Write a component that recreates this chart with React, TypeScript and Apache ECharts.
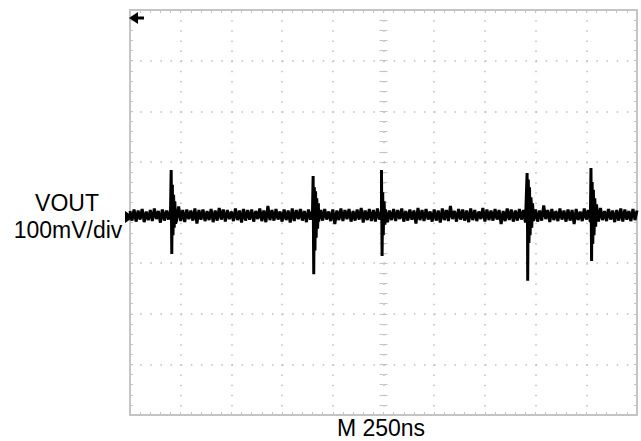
import React, { useEffect, useRef } from "react";
import * as echarts from "echarts";

// Time axis (ns) and voltage axis (mV)
const X_MIN = 0;
const X_MAX = 2500;
const X_DIV = 250;
const Y_MIN = -400;
const Y_MAX = 400;
const Y_DIV = 100;

// Baseline noise samples, one every 10 ns starting at 0 ns (mV)
const SAMPLE_STEP = 10;
const noise = [
  3, -16, 6, -18, 4, -14, 7, -19, 2, -15,
  5, -17, 8, -13, 3, -20, 6, -16, 4, -14,
  7, -18, 2, -15, 12, -17, 5, -19, 6, -13,
  4, -16, 8, -22, 5, -14, 6, -17, 3, -15,
  7, -19, 4, -16, 9, -14, 6, -18, 5, -13,
  2, -17, 8, -15, 4, -20, 7, -16, 5, -14,
  6, -18, 3, -13, 8, -17, 4, -19, 13, -15,
  5, -16, 7, -14, 2, -18, 6, -15, 4, -20,
  8, -17, 5, -13, 7, -16, 3, -19, 6, -14,
  4, -15, 9, -18, 5, -16, 7, -14, 2, -17,
  6, -23, 4, -15, 8, -17, 5, -13, 7, -18,
  3, -16, 6, -14, 9, -20, 4, -15, 7, -17,
  5, -18, 8, -14, 2, -16, 6, -19, 4, -15,
  7, -17, 5, -13, 8, -18, 3, -16, 6, -14,
  4, -22, 9, -15, 5, -17, 7, -14, 2, -18,
  6, -16, 4, -20, 8, -15, 5, -17, 13, -13,
  3, -18, 7, -14, 6, -16, 4, -19, 8, -15,
  5, -17, 2, -13, 9, -18, 6, -15, 4, -16,
  7, -14, 5, -23, 3, -17, 8, -15, 6, -18,
  4, -16, 7, -14, 5, -20, 2, -15, 8, -17,
  6, -18, 4, -16, 14, -13, 5, -19, 7, -15,
  3, -17, 8, -14, 4, -18, 6, -16, 5, -23,
  7, -15, 2, -17, 8, -14, 5, -19, 4, -16,
  6, -18, 9, -15, 3, -17, 7, -14, 4, -19,
  5, -16, 8, -18, 6, -14, 3, -17, 7, -15,
  4,
];

// Switching spikes with ringing: [time ns, mV]
const spike1 = [[203, 84], [206, -82], [209, 55], [212, -45], [215, 35], [218, -30], [221, 22], [225, -22]];
const spike2 = [[903, 72], [906, -122], [909, 50], [912, -75], [915, 42], [918, -50], [921, 28], [925, -32], [929, 18]];
const spike3 = [[1240, 84], [1243, -86], [1246, 40], [1249, -45], [1253, 22], [1257, -24]];
const spike4 = [[1958, 78], [1961, -135], [1964, 65], [1967, -60], [1970, 50], [1973, -45], [1977, 30], [1981, -30], [1985, 18]];
const spike5 = [[2273, 88], [2276, -96], [2279, 60], [2282, -62], [2285, 45], [2288, -45], [2292, 28], [2296, -28], [2300, 16]];

const CHANNEL_LABEL = "VOUT";
const SCALE_LABEL = "100mV/div";
const TIME_LABEL = "M 250ns";

const GRID = { left: 130, top: 10, width: 507, height: 405 };
const GREY = "#c4c4c4";
const FONT = "Liberation Sans, Arial, Helvetica, sans-serif";

function buildData() {
  const pts: number[][] = noise.map((v, i) => [i * SAMPLE_STEP, v]);
  const all = pts.concat(spike1, spike2, spike3, spike4, spike5);
  all.sort((a, b) => a[0] - b[0]);
  return all;
}

function xAx(extra: any) {
  return {
    type: "value",
    min: X_MIN,
    max: X_MAX,
    interval: X_DIV,
    axisLabel: { show: false },
    splitLine: { show: false },
    ...extra,
  };
}
function yAx(extra: any) {
  return {
    type: "value",
    min: Y_MIN,
    max: Y_MAX,
    interval: Y_DIV,
    axisLabel: { show: false },
    splitLine: { show: false },
    ...extra,
  };
}

export default function App() {
  const ref = useRef<HTMLDivElement>(null);
  useEffect(() => {
    document.body.style.margin = "0";
    if (!ref.current) return;
    const chart = echarts.init(ref.current, undefined, { renderer: "svg" });
    const borderLine = { show: true, onZero: false, lineStyle: { color: GREY, width: 2 } };
    const tick = (inside: boolean, len: number) => ({
      show: true,
      inside,
      length: len,
      lineStyle: { color: GREY, width: 1 },
    });
    const minor = (len: number) => ({
      show: true,
      splitNumber: 5,
      length: len,
      lineStyle: { color: GREY, width: 1 },
    });
    const noLine = { show: false, onZero: false };
    chart.setOption({
      animation: false,
      backgroundColor: "#ffffff",
      grid: { ...GRID, containLabel: false },
      xAxis: [
        xAx({
          position: "bottom",
          axisLine: borderLine,
          axisTick: tick(true, 3),
          minorTick: minor(3),
          splitLine: {
            show: true,
            lineStyle: { color: "#bdbdbd", width: 1.5, type: [1.5, 8.625] },
          },
        }),
        xAx({ position: "top", axisLine: borderLine, axisTick: tick(true, 3), minorTick: minor(3) }),
        xAx({
          position: "bottom",
          offset: -GRID.height / 2,
          axisLine: noLine,
          axisTick: tick(true, 3),
          minorTick: minor(3),
        }),
        xAx({
          position: "bottom",
          offset: -GRID.height / 2,
          axisLine: noLine,
          axisTick: tick(false, 3),
          minorTick: minor(3),
        }),
      ],
      yAxis: [
        yAx({
          position: "left",
          axisLine: borderLine,
          axisTick: tick(true, 3),
          minorTick: minor(3),
          splitLine: {
            show: true,
            lineStyle: { color: "#bdbdbd", width: 1.5, type: [1.5, 8.64] },
          },
        }),
        yAx({ position: "right", axisLine: borderLine, axisTick: tick(true, 3), minorTick: minor(3) }),
        yAx({
          position: "left",
          offset: -GRID.width / 2,
          axisLine: noLine,
          axisTick: tick(true, 4),
          minorTick: minor(4),
        }),
        yAx({
          position: "left",
          offset: -GRID.width / 2,
          axisLine: noLine,
          axisTick: tick(false, 4),
          minorTick: minor(4),
        }),
      ],
      series: [
        {
          type: "line",
          xAxisIndex: 0,
          yAxisIndex: 0,
          data: buildData(),
          showSymbol: false,
          symbol: "none",
          lineStyle: { color: "#000000", width: 3, join: "miter" },
          z: 10,
        },
      ],
      graphic: [
        {
          type: "text",
          x: 67,
          y: 203,
          style: {
            text: CHANNEL_LABEL,
            font: `23px ${FONT}`,
            fill: "#000",
            textAlign: "center",
            textVerticalAlign: "middle",
          },
        },
        {
          type: "text",
          x: 68,
          y: 230,
          style: {
            text: SCALE_LABEL,
            font: `23px ${FONT}`,
            fill: "#000",
            textAlign: "center",
            textVerticalAlign: "middle",
          },
        },
        {
          type: "text",
          x: 381,
          y: 428,
          style: {
            text: TIME_LABEL,
            font: `23px ${FONT}`,
            fill: "#000",
            textAlign: "center",
            textVerticalAlign: "middle",
          },
        },
        {
          type: "polygon",
          shape: { points: [[129, 18], [138, 12], [138, 24]] },
          style: { fill: "#000" },
          z: 20,
        },
        {
          type: "rect",
          shape: { x: 137, y: 16.5, width: 7, height: 3 },
          style: { fill: "#000" },
          z: 20,
        },
        {
          type: "polygon",
          shape: { points: [[125, 211], [134, 217], [125, 223]] },
          style: { fill: "#000" },
          z: 20,
        },
      ],
    });
    return () => chart.dispose();
  }, []);
  return <div ref={ref} style={{ width: 641, height: 441 }} />;
}
